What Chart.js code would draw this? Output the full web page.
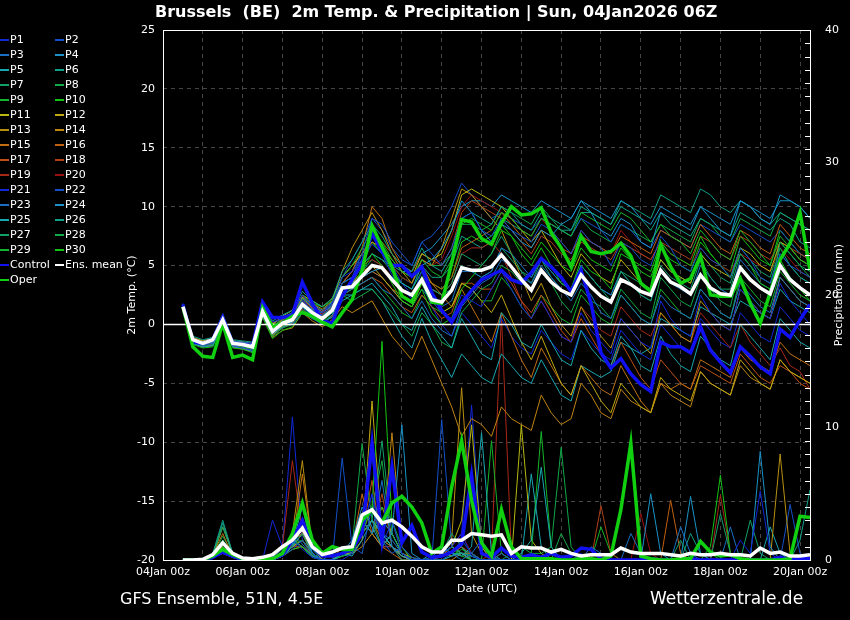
<!DOCTYPE html>
<html lang="en">
<head>
  <meta charset="UTF-8">
  <title>Brussels 2m Temp. &amp; Precipitation</title>
  <script src="https://cdn.jsdelivr.net/npm/chart.js"></script>
  <style>
    body { margin: 0; background: #000; font-family: "DejaVu Sans", sans-serif; color: #fff; }
    #wrap { position: relative; width: 850px; height: 620px; overflow: hidden; background: #000; }
    canvas { position: absolute; left: 0; top: 0; }
    .t { position: absolute; white-space: pre; color: #fff; }
    .rot { position: absolute; width: 160px; height: 14px; line-height: 14px; text-align: center; font-size: 11px;
           font-weight: normal; color: #fff; white-space: pre; transform: rotate(-90deg); }
    #legend { position: absolute; left: 0; top: 32px; font-size: 11px; }
    .item { position: absolute; height: 15px; line-height: 15px; white-space: pre; }
    .sw { display: inline-block; width: 9px; height: 2px; vertical-align: middle; margin-right: 1px; }
  </style>
</head>
<body>
<div id="wrap">
  <canvas id="chart" width="850" height="620"></canvas>
  <div class="t" style="left:155px;top:2px;font-weight:bold;font-size:16px">Brussels  (BE)  2m Temp. &amp; Precipitation | Sun, 04Jan2026 06Z</div>
  <div class="rot" style="left:52px;top:288px">2m Temp. (°C)</div>
  <div class="rot" style="left:759px;top:288px">Precipitation (mm)</div>
  <div class="t" style="left:457px;top:582px;font-size:11px">Date (UTC)</div>
  <div class="t" style="left:120px;top:589px;font-size:16px">GFS Ensemble, 51N, 4.5E</div>
  <div class="t" style="left:650px;top:588px;font-size:17px">Wetterzentrale.de</div>
  <div id="legend"></div>
</div>

<script>
// hours after 04Jan 00z, 06Z run, 6-hourly
const hours = [12,18,24,30,36,42,48,54,60,66,72,78,84,90,96,102,108,114,120,126,132,138,144,150,156,162,168,174,180,186,192,198,
  204,210,216,222,228,234,240,246,252,258,264,270,276,282,288,294,300,306,312,318,324,330,336,342,348,354,360,366,372,378,384,390];
const tickLabels = ['04Jan 00z','06Jan 00z','08Jan 00z','10Jan 00z','12Jan 00z','14Jan 00z','16Jan 00z','18Jan 00z','20Jan 00z'];

// main runs: 2m temperature (°C)
const operT = [1.5,-1.9,-2.7,-2.8,0.1,-2.8,-2.6,-3.0, 1.4,-0.2,0.1,0.7,1.0,0.7,0.2,-0.2,
  1.0,2.1,4.6,8.4,6.6,4.9,2.4,1.9, 3.8,1.9,1.8,5.2,8.9,8.7,7.3,6.8,
  8.6,10.0,9.3,9.4,9.9,7.8,6.5,4.9, 7.5,6.2,6.0,6.2,6.9,5.8,3.5,2.8,
  6.8,4.9,3.5,3.9,5.8,2.5,2.4,2.4, 3.9,1.8,0.1,2.7,5.5,6.9,9.5,4.6];
const ctrlT = [1.7,-1.5,-1.6,-1.3,0.6,-1.6,-1.7,-1.8, 1.9,0.6,0.6,0.8,3.6,1.8,0.3,0.1,
  2.4,3.8,5.2,7.7,6.2,5.0,5.0,4.1, 4.9,2.7,1.2,0.2,1.8,2.9,3.8,4.2,
  4.6,3.8,3.5,4.4,5.6,4.9,4.0,2.8, 4.6,1.8,-2.4,-3.7,-2.9,-4.2,-5.1,-5.7,
  -1.5,-1.9,-1.9,-2.4,-0.2,-2.2,-3.2,-4.1, -1.9,-2.7,-3.6,-4.2,-0.4,-1.1,0.4,1.7];
const meanT = [1.5,-1.3,-1.6,-1.3,0.4,-1.6,-1.7,-1.9, 1.1,-0.6,0.1,0.4,1.7,1.0,0.5,1.2,
  3.1,3.2,4.1,5.0,4.8,3.8,2.9,2.5, 3.8,2.1,1.9,2.9,4.8,4.6,4.6,4.9,
  5.9,4.9,3.8,2.9,4.6,3.6,2.9,2.5, 4.2,3.2,2.4,1.9,3.8,3.4,2.8,2.5,
  4.6,3.6,3.2,2.6,4.2,3.1,2.6,2.5, 4.8,3.8,3.1,2.6,5.0,3.8,3.1,2.5];

// main runs: precipitation (mm / 6h)
const operR = [0,0,0,0.3,0.8,0.4,0.1,0.1, 0.1,0.1,0.5,2.0,4.3,1.5,0.5,1.0,
  0.8,0.8,3.0,3.8,2.8,4.3,4.8,4.0, 2.8,0.5,1.0,5.5,9.0,4.5,1.3,0.3,
  3.8,1.0,0.1,0.1,0.1,0.1,0,0, 0.1,0.1,0,0.3,3.8,8.8,0.3,0.1,
  0,0,0.1,0.1,1.4,0.6,0.3,0.4, 0.1,0,0,0,0,0.1,3.3,3.2];
const ctrlR = [0,0,0,0.2,0.6,0.3,0,0, 0.1,0.1,0.4,1.5,3.0,1.0,0.3,0.3,
  0.5,0.8,2.0,8.8,1.5,7.0,1.3,2.6, 0.6,0.2,0.3,0.6,1.2,6.4,0.5,0.2,
  0.9,0.3,0.2,0.4,0.2,0.5,0.2,0.3, 0.9,0.8,0.1,0,0,0,0,0.1,
  0,0,0,0.1,0,0,0,0, 0,0,0,0,0.2,0,0.1,0.1];
const meanR = [0,0,0.05,0.4,1.3,0.5,0.15,0.1, 0.2,0.4,1.0,1.5,2.4,1.0,0.4,0.6,
  0.9,1.0,3.4,3.8,2.8,3.0,2.5,1.8, 1.0,0.6,0.6,1.5,1.5,2.0,1.9,1.8,
  1.9,0.5,1.0,0.9,0.9,0.6,0.8,0.5, 0.3,0.4,0.4,0.4,0.9,0.6,0.5,0.5,
  0.5,0.4,0.3,0.5,0.4,0.4,0.5,0.4, 0.4,0.3,0.9,0.5,0.6,0.3,0.3,0.4];

// ensemble members: 2m temperature
const t01 = [1.8,-1.2,-1.5,-1.4,0.8,-1.5,-1.6,-1.7, 1.5,0.2,0.5,0.8,2.5,1.5,1.0,1.8, 4.0,4.5,5.5,6.8,6.0,4.2,3.0,2.2, 4.5,2.0,1.0,0.5,2.5,2.0,1.5,3.0,
  4.5,3.0,1.5,0.5,2.0,0.5,-1.0,-1.5, 1.0,-0.5,-1.5,-2.5,0.5,-0.5,-1.5,-2.0, 2.0,0.5,-0.5,-1.0,2.5,1.0,0.0,-0.5, 3.0,2.0,1.0,0.5,3.5,2.0,1.0,0.0];
const t02 = [1.4,-1.5,-1.8,-1.6,0.5,-1.8,-2.0,-2.2, 0.8,-0.8,0.0,0.5,2.0,1.2,0.8,1.5, 3.5,4.0,6.0,9.0,8.5,7.0,6.0,5.0, 7.0,6.0,5.0,6.5,9.0,9.5,8.0,7.5,
  9.0,8.0,7.5,7.0,8.5,8.0,7.0,6.0, 8.0,7.0,6.5,5.0,7.0,6.5,5.5,5.0, 7.5,6.5,5.0,4.5,6.5,5.5,5.0,4.0, 6.5,5.5,4.0,3.5,6.0,5.0,4.5,4.0];
const t03 = [1.6,-1.3,-1.6,-1.2,0.6,-1.4,-1.5,-1.6, 1.2,-0.4,0.3,0.0,1.0,0.5,0.0,0.8, 2.5,3.0,3.5,4.0,3.0,2.5,1.5,0.5, 2.0,0.5,-0.5,-1.0,1.5,2.5,3.5,4.0,
  5.5,5.0,4.0,3.5,5.0,4.0,3.0,2.0, 3.5,2.5,1.0,0.5,2.5,1.5,0.5,0.0, 2.5,1.5,1.0,0.5,3.0,2.0,1.0,0.5, 3.5,2.5,1.5,1.0,4.0,3.0,2.0,1.5];
const t04 = [1.3,-1.6,-1.9,-1.8,0.2,-1.9,-2.0,-2.3, 0.9,-0.7,0.2,0.6,1.8,1.3,1.0,1.6, 3.0,3.5,4.0,4.5,4.8,4.0,3.5,3.0, 5.0,5.5,6.5,8.0,10.5,9.5,8.0,7.0,
  8.5,8.0,7.0,6.5,8.0,7.5,8.5,9.0, 10.5,9.5,8.0,7.5,9.0,8.5,7.0,6.5, 9.5,9.0,8.5,8.0,10.0,9.0,8.0,7.5, 10.5,10.0,9.0,8.5,11.0,10.5,10.0,9.0];
const t05 = [1.5,-1.5,-1.7,-1.5,0.3,-1.6,-1.8,-2.0, 1.0,-0.8,-0.2,0.2,1.5,0.8,0.2,0.6, 2.0,2.5,3.0,3.5,2.5,1.5,0.0,-0.5, 1.5,0.0,-1.0,-2.0,0.5,-1.0,-2.5,-3.0,
  1.0,0.0,-1.5,-2.0,0.0,-1.5,-3.0,-3.5, -0.5,-2.0,-3.0,-3.5,-1.0,-2.0,-3.5,-4.0, -1.0,-2.5,-3.5,-4.0,-1.0,-2.0,-3.0,-3.5, 0.0,-1.0,-2.0,-3.0,0.5,-0.5,-1.5,-2.0];
const t06 = [1.7,-1.0,-1.3,-1.1,0.9,-1.3,-1.4,-1.5, 1.8,0.3,0.8,1.2,2.8,2.0,1.5,2.2, 4.5,5.5,7.0,8.5,7.5,6.0,5.0,4.5, 6.5,5.0,4.5,6.0,9.0,9.5,9.0,8.5,
  10.0,9.5,8.5,8.0,9.5,9.0,8.5,8.0, 10.0,9.5,9.0,8.5,10.0,9.5,9.0,8.0, 9.5,8.5,8.0,7.5,9.0,8.5,8.0,7.5, 9.5,9.0,8.5,8.0,9.0,8.5,7.0,6.5];
const t07 = [1.4,-1.4,-1.6,-1.3,0.4,-1.5,-1.6,-1.8, 1.1,-0.5,0.2,0.5,2.2,1.6,1.0,1.8, 3.5,4.0,5.0,6.0,5.5,4.5,3.5,3.0, 4.5,3.0,2.5,3.5,6.0,5.5,5.0,6.0,
  7.5,6.0,4.5,3.5,5.5,4.0,3.0,2.5, 5.0,4.0,3.0,2.0,4.5,3.5,2.5,2.0, 5.0,4.0,3.5,3.0,5.5,4.0,3.0,3.0, 6.0,5.0,4.0,3.5,6.5,5.0,4.0,3.5];
const t08 = [1.6,-1.6,-1.8,-1.7,0.2,-1.7,-1.9,-2.1, 0.8,-1.0,-0.3,0.0,1.2,0.8,0.3,1.0, 2.5,2.0,2.5,3.0,2.0,1.0,0.0,-1.0, 1.0,0.0,-1.5,-2.0,1.0,2.0,3.0,3.5,
  5.0,4.5,3.5,3.0,4.5,3.5,2.0,1.0, 3.0,2.0,1.5,0.5,3.0,2.0,1.0,0.5, 4.0,3.0,2.0,1.5,4.0,3.0,2.0,1.5, 5.0,4.0,3.0,2.5,7.0,6.0,5.0,4.0];
const t09 = [1.5,-1.3,-1.5,-1.3,0.6,-1.5,-1.6,-1.8, 1.3,-0.2,0.5,1.0,2.5,1.8,1.5,2.0, 4.0,5.0,6.5,8.0,7.0,5.5,4.5,4.0, 5.5,4.5,4.0,5.5,8.5,9.0,8.5,8.0,
  9.5,9.0,8.0,7.5,9.0,8.5,8.0,7.5, 9.5,9.0,8.5,8.0,9.5,9.0,8.0,7.0, 8.5,7.5,7.0,6.0,8.0,7.0,6.0,5.5, 8.0,7.0,6.0,5.0,7.5,6.5,5.5,5.0];
const t10 = [1.3,-1.7,-2.0,-1.9,0.1,-2.0,-2.1,-2.4, 0.6,-1.2,-0.5,-0.2,1.0,0.5,0.2,0.8, 2.5,3.0,4.5,6.0,5.0,3.5,2.0,1.5, 3.0,1.0,0.0,0.5,3.0,4.0,5.0,6.0,
  8.0,7.5,6.0,5.0,6.5,5.0,3.5,3.0, 5.5,4.5,4.0,3.0,6.0,5.5,5.0,4.5, 7.0,6.0,5.5,5.0,7.5,6.0,5.0,4.0, 6.0,5.0,3.5,3.0,5.5,4.0,3.0,2.0];
const t11 = [1.6,-1.2,-1.4,-1.2,0.7,-1.4,-1.5,-1.7, 1.4,0.0,0.7,1.2,2.5,2.0,1.5,2.2, 4.0,5.0,6.0,7.0,6.5,5.5,4.5,4.0, 6.0,5.5,6.0,8.0,11.0,11.5,11.0,10.5,
  10.0,9.0,8.0,7.0,8.0,6.5,5.0,4.0, 6.0,5.0,4.0,3.5,5.5,4.5,3.5,3.0, 5.5,4.5,4.0,3.5,6.0,5.0,4.5,4.0, 6.5,6.0,5.0,4.5,7.0,6.5,5.5,5.0];
const t12 = [1.4,-1.5,-1.8,-1.6,0.4,-1.8,-1.9,-2.0, 0.9,-0.9,-0.1,0.3,1.6,1.0,0.5,1.1, 3.0,3.5,4.5,5.0,4.0,3.0,2.0,1.5, 3.5,2.0,1.0,1.5,3.5,3.0,2.0,1.0,
  2.5,0.5,-1.5,-3.0,-1.0,-3.0,-5.0,-6.0, -3.5,-5.0,-6.5,-7.5,-5.0,-6.0,-7.0,-7.5, -4.5,-5.5,-6.0,-6.5,-4.0,-5.0,-5.5,-6.0, -3.0,-4.0,-5.0,-5.5,-3.0,-4.0,-4.5,-5.0];
const t13 = [1.5,-1.4,-1.6,-1.4,0.5,-1.6,-1.7,-1.9, 1.2,-0.4,0.4,0.9,2.3,1.8,1.3,2.0, 4.5,6.5,8.0,9.5,8.0,6.0,4.5,3.5, 5.5,5.0,6.5,9.0,11.5,11.0,10.0,9.0,
  8.0,6.0,4.0,2.0,3.5,1.5,0.0,-1.0, 1.5,0.0,-1.0,-2.0,0.5,-0.5,-1.5,-2.5, 1.0,0.0,-1.0,-1.5,2.0,1.0,0.0,-0.5, 3.0,2.0,1.0,0.5,4.0,3.0,2.0,1.5];
const t14 = [1.3,-1.6,-1.9,-1.8,0.3,-1.9,-2.1,-2.3, 0.7,-1.1,-0.5,-0.3,1.0,0.3,-0.2,0.4, 1.5,1.0,1.5,2.0,0.5,-1.0,-2.0,-3.0, -1.0,-3.0,-5.0,-7.0,-9.5,-8.0,-8.5,-9.5,
  -7.0,-8.0,-8.5,-9.0,-6.0,-7.5,-8.5,-8.0, -5.0,-6.0,-7.5,-8.0,-5.5,-6.5,-7.0,-7.5, -5.0,-6.0,-6.5,-7.0,-4.0,-5.0,-5.5,-6.0, -3.5,-4.5,-5.0,-5.5,-3.0,-4.0,-4.5,-5.0];
const t15 = [1.7,-1.1,-1.4,-1.2,0.8,-1.4,-1.5,-1.6, 1.6,0.1,0.6,0.9,2.2,1.4,0.8,1.5, 3.5,4.5,6.5,10.0,9.0,6.5,5.0,4.0, 5.0,3.5,2.5,1.5,3.0,1.5,0.0,-1.5,
  1.0,-1.0,-3.0,-4.5,-2.0,-3.5,-5.0,-6.0, -3.5,-4.5,-5.5,-6.0,-3.5,-5.0,-6.5,-7.5, -5.0,-5.5,-5.0,-5.5,-3.0,-3.5,-4.0,-4.5, -2.0,-3.0,-3.5,-4.0,-1.5,-2.5,-3.0,-3.5];
const t16 = [1.5,-1.4,-1.7,-1.5,0.4,-1.7,-1.8,-2.0, 1.0,-0.6,0.0,0.4,1.8,1.1,0.6,1.3, 3.0,3.5,4.0,4.5,4.0,3.0,2.5,2.0, 4.0,3.5,3.0,4.0,6.5,7.0,7.5,8.0,
  9.5,8.5,7.5,6.5,8.0,7.5,6.5,6.0, 7.5,7.0,6.5,6.0,7.5,7.0,6.5,6.0, 8.0,7.5,7.0,6.5,8.5,7.5,6.5,6.0, 8.0,7.5,6.5,6.0,8.5,7.5,6.5,6.0];
const t17 = [1.4,-1.5,-1.8,-1.7,0.3,-1.8,-2.0,-2.1, 0.8,-0.9,-0.2,0.1,1.3,0.6,0.1,0.7, 2.5,3.0,3.5,4.0,3.5,2.5,1.5,1.0, 2.5,1.5,0.5,1.0,3.5,3.5,3.0,3.0,
  4.5,3.5,2.0,1.0,2.5,1.0,-0.5,-1.5, 0.5,-1.0,-2.5,-3.5,-1.5,-3.0,-4.5,-5.5, -3.0,-4.0,-5.0,-5.5,-3.5,-4.0,-4.5,-5.0, -2.5,-3.5,-4.5,-5.0,-3.5,-4.0,-5.0,-5.5];
const t18 = [1.6,-1.2,-1.5,-1.3,0.7,-1.5,-1.6,-1.8, 1.4,-0.2,0.5,0.9,2.4,1.6,1.1,1.8, 4.0,5.0,6.0,7.5,7.0,6.0,5.0,4.5, 6.0,5.5,5.0,6.5,9.5,10.5,10.0,9.5,
  9.0,8.0,7.0,6.0,7.5,7.0,6.0,5.5, 7.0,6.5,6.0,5.5,7.0,6.5,6.0,5.5, 7.0,6.5,6.0,5.5,7.5,7.0,6.0,5.5, 7.5,7.0,6.0,5.5,7.0,6.5,6.0,5.5];
const t19 = [1.5,-1.3,-1.6,-1.4,0.5,-1.6,-1.7,-1.9, 1.2,-0.5,0.3,0.7,2.0,1.3,0.8,1.5, 3.5,4.0,5.0,5.5,5.0,4.0,3.0,2.5, 4.0,3.0,2.5,3.5,6.0,6.5,6.5,7.0,
  6.0,4.0,2.0,0.5,2.0,0.5,-1.0,-1.5, 1.5,0.5,-0.5,-1.0,1.5,0.5,-0.5,-1.0, 1.0,0.0,-1.0,-1.5,1.0,0.0,-1.0,-2.0, 0.0,-1.5,-2.5,-3.5,-2.0,-3.5,-4.0,-5.5];
const t20 = [1.4,-1.4,-1.7,-1.5,0.4,-1.7,-1.8,-2.0, 1.0,-0.7,0.1,0.5,1.9,1.3,0.9,1.6, 3.5,4.5,5.5,7.0,6.5,5.0,4.0,3.5, 5.5,5.0,5.5,7.5,10.0,11.0,10.5,10.0,
  9.5,9.0,8.0,7.5,9.0,8.0,7.0,6.0, 8.0,7.0,6.5,6.0,8.0,7.0,6.0,5.5, 7.0,6.0,5.5,5.0,6.5,5.5,5.0,4.5, 6.0,5.5,5.0,4.5,6.5,5.5,4.5,4.0];
const t21 = [1.6,-1.3,-1.5,-1.3,0.6,-1.5,-1.6,-1.8, 1.3,-0.3,0.4,0.8,2.1,1.4,1.0,1.7, 3.5,4.5,6.0,7.5,6.5,5.0,3.5,2.5, 3.5,1.5,0.0,-1.0,1.0,0.0,-1.0,-2.0,
  0.5,-1.0,-2.0,-2.5,-0.5,-1.5,-2.5,-3.0, -0.5,-1.5,-2.5,-3.0,-0.5,-1.5,-2.5,-3.0, 0.0,-1.0,-2.0,-2.5,0.5,-0.5,-1.5,-2.0, 1.0,0.0,-1.0,-1.5,1.5,0.5,-0.5,-1.0];
const t22 = [1.5,-1.4,-1.7,-1.5,0.5,-1.7,-1.8,-2.0, 1.0,-0.6,0.2,0.6,2.0,1.5,1.1,1.8, 4.0,5.5,7.0,9.0,8.0,6.5,5.5,5.0, 7.0,7.5,8.5,10.0,12.0,11.0,10.0,9.0,
  9.5,9.0,8.5,8.0,9.0,8.5,8.0,7.5, 9.0,8.5,8.0,7.0,8.5,8.0,7.0,6.5, 8.0,7.5,7.0,6.5,8.5,8.0,7.5,7.0, 8.5,8.0,7.5,7.0,8.0,7.0,6.0,5.5];
const t23 = [1.3,-1.6,-1.9,-1.7,0.2,-1.9,-2.0,-2.2, 0.7,-1.0,-0.3,0.1,1.4,0.8,0.3,1.0, 3.0,3.5,4.0,4.5,4.0,3.0,2.0,1.5, 3.0,2.0,1.5,2.0,4.5,4.5,4.0,4.5,
  6.5,6.0,5.0,4.0,5.5,4.5,3.5,3.0, 5.0,4.0,3.0,2.5,4.5,3.5,2.5,2.0, 4.5,3.5,3.0,2.5,5.0,4.0,3.0,2.5, 5.5,4.5,3.5,3.0,6.0,5.0,4.0,3.5];
const t24 = [1.7,-1.1,-1.4,-1.2,0.8,-1.4,-1.5,-1.7, 1.5,0.0,0.6,1.0,2.3,1.7,1.2,1.9, 3.5,4.0,5.0,6.0,5.5,5.0,4.5,4.5, 6.0,6.5,7.5,8.5,10.0,10.5,10.5,10.0,
  11.0,10.5,10.0,9.5,10.5,10.0,9.5,9.0, 10.5,10.0,9.5,9.0,10.5,10.0,9.0,8.5, 10.0,9.5,9.0,8.5,10.0,9.5,9.0,8.5, 10.5,10.0,9.5,9.0,10.5,10.5,10.0,9.0];
const t25 = [1.4,-1.5,-1.8,-1.6,0.4,-1.8,-1.9,-2.1, 0.9,-0.8,-0.1,0.3,1.5,0.9,0.4,1.1, 2.5,2.5,3.0,3.0,2.0,0.5,-1.0,-2.0, 0.5,-1.5,-3.0,-4.5,-2.5,-3.5,-4.5,-5.0,
  -2.5,-3.5,-4.5,-5.0,-3.0,-4.5,-6.0,-6.5, -3.5,-4.0,-4.5,-4.0,-1.5,-2.0,-2.5,-2.0, 0.5,0.0,-0.5,-1.0,1.5,1.0,0.5,0.0, 2.0,1.5,1.0,0.5,3.0,2.0,1.5,1.0];
const t26 = [1.6,-1.2,-1.5,-1.3,0.6,-1.5,-1.6,-1.8, 1.3,-0.3,0.4,0.8,2.2,1.5,1.1,1.7, 3.5,4.0,5.5,7.5,6.5,5.0,4.0,3.5, 5.0,4.0,4.0,5.0,7.5,7.0,6.5,7.0,
  9.0,8.5,8.0,7.5,9.0,8.5,8.0,8.0, 9.5,9.5,9.0,8.5,10.5,10.0,9.5,9.0, 11.0,10.5,10.0,9.5,11.5,11.0,10.0,9.5, 10.5,10.0,9.0,8.5,9.5,9.0,8.5,8.0];
const t27 = [1.5,-1.4,-1.6,-1.4,0.5,-1.6,-1.7,-1.9, 1.1,-0.5,0.2,0.6,2.0,1.2,0.7,1.4, 3.0,3.5,4.5,5.5,5.0,4.0,3.0,2.5, 4.0,3.0,2.5,3.0,5.0,4.5,4.0,4.5,
  6.5,5.5,4.5,4.0,5.5,4.5,3.5,3.0, 5.0,4.0,3.0,2.5,4.5,4.0,3.5,3.0, 5.5,4.5,4.0,3.5,6.0,5.0,4.0,3.5, 6.5,5.5,4.5,4.0,7.0,6.0,5.0,4.5];
const t28 = [1.4,-1.5,-1.8,-1.6,0.4,-1.8,-1.9,-2.1, 1.0,-0.7,0.1,0.5,1.8,1.2,0.8,1.5, 3.5,4.5,6.0,7.0,6.0,5.0,4.0,3.5, 5.5,5.0,5.0,6.0,8.5,8.5,8.0,8.5,
  10.0,9.5,9.0,8.5,10.0,9.0,8.0,7.5, 9.0,8.0,7.5,7.0,8.5,8.0,7.5,7.0, 8.5,8.0,7.5,7.0,9.0,8.5,7.5,7.0, 9.0,8.5,8.0,7.5,9.5,9.0,8.5,8.0];
const t29 = [1.5,-1.3,-1.6,-1.4,0.5,-1.6,-1.7,-1.9, 1.2,-0.4,0.3,0.7,1.9,1.3,0.8,1.5, 3.0,3.0,3.5,4.0,3.0,2.0,1.0,0.5, 2.5,1.5,1.0,1.5,3.5,3.0,2.0,2.0,
  4.0,3.0,1.5,0.5,2.5,1.5,0.5,0.0, 2.5,1.5,0.5,0.0,2.5,1.5,0.5,0.0, 3.0,2.0,1.0,0.5,3.0,2.0,1.0,0.5, 4.0,3.0,2.0,1.5,4.5,3.5,2.5,2.0];
const t30 = [1.3,-1.6,-1.9,-1.8,0.3,-1.9,-2.0,-2.2, 0.8,-0.9,-0.2,0.2,1.6,1.1,0.6,1.3, 3.0,3.5,5.0,7.0,6.0,4.5,3.5,3.0, 4.5,3.5,3.0,4.0,7.0,7.5,7.0,7.5,
  8.5,7.5,6.5,5.5,7.0,6.0,5.0,4.5, 6.5,5.5,5.0,4.5,6.5,5.5,4.5,4.0, 6.5,5.5,5.0,4.5,7.0,6.0,5.0,4.5, 7.5,6.5,5.5,5.0,8.0,7.0,6.0,5.5];

// ensemble members: precipitation
const r01 = [0,0,0,0.2,0.5,0.2,0,0, 0,0,0.5,1.5,0.8,0.2,0,0, 0,0.5,2,5,1,3,0.5,0, 0,0,0.5,1,2,0.3,0,0,
  0,0,0,0,0,0,0,0, 0.5,0,0,0,0,0,0,0, 0,0,0,0,0,0,0,0, 1.5,0.5,5.2,0.5,0,0,0,0];
const r02 = [0,0,0,0.3,0.8,0.3,0,0, 0,0,0.3,0.8,1.5,0.5,0,0, 7.7,1,0.5,4,1.5,0.5,1,0.2, 0,0,0,0.5,1.5,0.5,0,0,
  0.5,0,0,0,0.3,0,0,0, 0,0,0,0,0,0,0,0, 0,0,0,0,0,0,0,0, 0,0,0,0,0,0,0,0];
const r03 = [0,0,0,0.1,0.6,0.2,0,0, 0,0.2,0.8,2,1.2,0.3,0,0.5, 1,0.5,3,2,6,1,0.5,0, 0,0.2,1,0.5,0,0.5,1.5,0.2,
  0,0,0,0,0,0,0,0, 0,1,0.5,0,0,2,0.5,0, 0,0,2.5,0.5,0,0,0,0, 0,0,0,0,0,0,0,0];
const r04 = [0,0,0,0.3,1.2,0.4,0,0, 0,0,0.3,1,2.5,0.5,0,0, 0.5,1.5,4,2.5,1,2,10.2,0.5, 0,0,0,0.3,0.5,0,0,0,
  0,0,0,0,0,0,0,0, 0,0,0,0,0,0,0,5, 0.5,0,0,0,0,0,0,0, 0,0,8.2,1,0,0,0,0];
const r05 = [0,0,0,0.2,0.7,0.3,0,0, 0,0,0.6,1.2,4,0.8,0,0, 0.5,0.3,1.5,3,2,1,0.3,0, 0,0.5,1,0.5,0.3,1,9.6,0.5,
  0,0,0.5,1.5,7,1,0,0, 0,0,0,0,0,0,0,0, 0,0,0,0,0,0,0,0, 0,0,0,0,0,0,0,0];
const r06 = [0,0,0,0.5,3,0.5,0,0, 0,0,0.5,1,3,0.5,0,0, 0.5,1,3,8,2,1,0,0, 0,0,0.5,1,0.5,0.3,0,0,
  0,0,0,0,0,0,0,0, 0,0,0,0,0,0,0,0, 0,0,0,2,0.5,0,0,0, 0,0,0,0,0,0,0,0.5];
const r07 = [0,0,0,0.4,2.5,0.4,0,0, 0,0,0.4,1,2,0.5,0,0, 0.3,0.5,2,3,9,2,0.5,0, 0,0,0.5,2,1,0,0,0,
  0,0,0,0,0,0,0,0, 0,0,0,0,0,0,0,0, 0,0,1.5,0,0,0,3.5,0.5, 0,0,0,0,0,0,0,0];
const r08 = [0,0,0,0.3,1.5,0.3,0,0, 0,0,0.6,1.5,1,0.3,0,0, 0.5,1,8.8,3,1,2,0.5,0, 0,0,0.5,1,0.5,0.3,0,0,
  0,0.5,1,0.5,0.5,1,8.5,1, 0,0,0,0,0,0,0,0, 0,0,0,0,0,0,0,0, 0,0,0,0,0,0,0,0];
const r09 = [0,0,0,0.2,1,0.3,0,0, 0,0,0.5,1.2,1.5,0.4,0,0, 0.3,0.5,3,2,4,3,1,0, 0,0,0,0.3,0.8,0.5,0,9,
  0.5,0,0,0.5,9.7,1,0,0, 0,0,0,0,0,0,0,0, 0,0,0,0,0,0,0,0, 0,0,0,0,0,0,0,0];
const r10 = [0,0,0,0.2,0.8,0.2,0,0, 0,0,0.3,0.8,1,0.2,0,0, 0.3,0.5,2,4,16.5,3,0.5,0, 0,0,0.5,1,0.3,0,0,0,
  0,0,0,0,0,0,0,0, 0,0,0,0,0,0,0,0, 0,0,0,0,0,1,6.4,0.5, 0,0,0,0,0,0,0,0];
const r11 = [0,0,0,0.3,2.5,0.5,0,0, 0,0,0.5,1,1.5,0.5,0,0, 0.5,1,2,3,2,1,0.5,0.2, 0,0,0.5,1,3,10.2,1,0,
  0.5,0,10.2,1.5,0.5,0,0,0, 0,0,0,0,0,0,0,0, 0,0,0,0,0,0,0,0, 0,0,0,0,0,0,0,0];
const r12 = [0,0,0,0.2,1,0.2,0,0, 0,0,0.3,1,2,0.5,0,0, 0.5,0.5,1.5,12,2,1,0.3,0, 0,0,0.5,0.3,0.5,0,0,0,
  0,0,0,0,0,0,0,0, 0,0,0,0,0,0,0,0, 0,0,0,0,0,0,0,0, 0,0,0,0,0,0,0,0];
const r13 = [0,0,0,0.3,1,0.3,0,0, 0,0,0.5,2,7.5,1,0,0, 0.5,1,3,2,4,2,0.5,0, 0,0,0.5,1.5,13,2,0.5,0,
  0,0,0,0,0,0,0,0, 0,0,0,0,0,0,0,0, 0,0,0,0,0,0,0,0, 0,0,0,0,8,0.5,0,0];
const r14 = [0,0,0,0.2,0.5,0.2,0,0, 0,0,0.3,0.8,1,0.3,0,0, 0.5,0.5,1,2,1,9.6,1,0, 0,0,0,0,0.5,0,0,0,
  0,0,0,0,0,0,0,0, 0,0,0,0,0,0,0,0, 0,0,0,0,0,0,0,0, 0,0,0,0,0,0,0,0];
const r15 = [0,0,0,0.4,2,0.3,0,0, 0,0,0.4,1.2,6.5,1,0,0, 1,0.5,2,3,1.5,1,0.5,0, 0,0,0.5,0.5,1,0,0,0,
  0,0,0,0,0,0,0,0, 0,0,0,0,0,0,0,0, 0,0,0,0,0,0,0,0, 0,0,0,0,0,0,0,0];
const r16 = [0,0,0,0.3,1.2,0.3,0,0, 0,0,0.5,1.5,2,0.5,0,0, 0.5,1,5,2,1,0.5,0,0, 0,0,0.3,1,0.5,0,0,0,
  0,0,0,0,0,0,0,0, 0,0,0,0,0,0,0,0, 0,4.5,0.5,0,0,0,0,0, 0,0,0,0,0,0,0,0];
const r17 = [0,0,0,0.2,0.8,0.2,0,0, 0,0,0.5,1,1,0.3,0,0, 0.3,0.5,2,6,1,2,0.5,0, 0,0,0.5,1,0.5,0.5,0,0,
  0,0,0,0,0,0,0,0, 0,0,0,0,0,0,0,0, 0,0,0,0,0,0,0,0, 0,0,0,0,0,0,0,0];
const r18 = [0,0,0,0.2,1,0.3,0,0, 0,0,0.5,1.5,1,0.5,0,0, 0.5,1,3,2,5,1,0,0, 0,0,0.5,1,0.5,0,0,0,
  0,0,0,0,0,0,0,0, 0,0,4.1,0.5,0,0,0,0, 0,0,0,0,0,0,0,0, 0,0,0,0,0,0,0,0];
const r19 = [0,0,0,0.3,1,0.3,0,0, 0,0,1,7.5,2,0.5,0,0, 0.5,0.5,2,3,1,1,0.3,0, 0,0,0.3,0.5,1,0.5,0,0.5,
  18.5,0.5,0,0,0,0,0,0, 0,0,0,0,0,0,0,0, 0,0,0,0,0,0,4.9,0.5, 0,0,0,0,0,0,0,0];
const r20 = [0,0,0,0.2,0.6,0.2,0,0, 0,0,0.3,1,1.5,0.3,0,0, 0.5,1,2,4,2,1,0.5,0, 0,0,0.5,1,2,0.5,0,0,
  0,0,0,0,0,0,0,0, 0,0,0,0,0,0,3.5,0.5, 0,0,0,0,0,0,0,0, 0,0,0,0,0,0,0,0];
const r21 = [0,0,0,0.2,0.6,0.2,0,0, 0,3,1,10.8,1.5,0.5,0,0, 0.5,0.5,2,5,2,1,0.5,0, 0,0,0.5,1,2,11.7,1,0,
  0,0,0,0,0,0,0,0, 0,0,0,0,0,0,0,0, 0,0,0,0,0,0,0,0, 0,0,0,0,0,0,0,0];
const r22 = [0,0,0,0.2,0.5,0.2,0,0, 0,0,0.3,1,1.5,0.3,0,0, 0.5,0.5,3,2,1,1,0.3,0, 0,0,10.6,1,0.5,0,0,0,
  0,0,0,0,0,0,0,0, 0,0,0,0,0,0,0,0, 0,0,0,0,0,0,0,0, 0,0,0,0,0,4.2,0.5,0];
const r23 = [0,0,0,0.3,1,0.3,0,0, 0,0,0.5,1.5,2,0.5,0,0, 0.5,1,2,3,2,1.5,0.5,0, 0,0,0.5,0.5,1,0.3,0,0,
  0,0,0,0,0,0,0,0, 0,0,0,0,0,0,0,0, 0,0,0,0,0,0,0,2.5, 0,0,0,0,0,0,0,0];
const r24 = [0,0,0,0.2,0.8,0.3,0,0, 0,0,0.5,1,1.5,0.5,0,0, 0.5,0.5,2,4,1.5,1,0.3,0, 0,0,0.3,1,0.5,0,0,0,
  0,0,0,0,0,0,0,0, 0,0,0,0,0,0,0,0, 0,0,0,4.8,0.5,0,0,0, 0,0,0,0,0,0,0,0];
const r25 = [0,0,0,0.3,1.2,0.3,0,0, 0,0,0.5,1,2,0.5,0,0, 0.5,1,3,2,3,2,0.5,0, 0,0,0.5,0.5,0.5,0.5,0,0,
  0,0,0,6.5,1,0,0,0, 0,0,0,0,0,0,0,0, 0,0,0,0,0,0,0,0, 0,0,0,2.5,0.5,0,0,0];
const r26 = [0,0,0,0.4,2.8,0.5,0,0, 0,0,0.5,1.5,1,0.3,0,0, 0.5,0.5,2,3,2,1,0.3,0, 0,0,0.5,1,0.5,0.5,0,0,
  0,0,0,0,0,0,0,0, 0,0,0,0,0,0,0,0, 0,0,0,0,0,0,0,0, 0,0,0,0,0,0,1.5,5.3];
const r27 = [0,0,0,0.3,1.5,0.3,0,0, 0,0,0.5,1,2,0.5,0,0, 0.5,1,2,3,2,1,0.5,0, 0,0,0.5,1,0.5,0.3,0,0,
  0,0,0,0,0,0,0,0, 0,0,0,0,0,0,0,0, 0,0,0,0,0,0,0,0, 0,3,0.5,0,0,0,0,0];
const r28 = [0,0,0,0.3,1.8,0.4,0,0, 0,0,0.4,1,1.5,0.5,0,0, 0.5,1,2.5,4,7.5,1,0.5,0, 0,0,0.5,1,0.5,0.3,0,0,
  0,0,0,0,0,0,2,0.5, 0,0,0,0,0,0,0,0, 0,0,0,0,0,0,0,0, 0,0,0,0,0,0,0,0];
const r29 = [0,0,0,0.3,1.5,0.3,0,0, 0,0,0.5,1,1.5,0.5,0,0, 0.5,1,2,3,2,1,0.5,0, 0,0,0.5,1,0.5,0,0,0,
  0,0,0,0,0,0,0,0, 0,0,2.5,0.5,0,0,0,0, 0,0,0,0,0,0,0,0, 0,0,0,0,0,0,0,0];
const r30 = [0,0,0,0.3,1.2,0.3,0,0, 0,0,0.3,1,1.5,0.5,0,0, 0.5,1,2,3,2,1,0.5,0, 0,0,0.5,1,0.5,0,0,0,
  0,0,0,0,0,0,0,0, 0,0,0,0,0,0,0,0, 0,0,0,0,1.5,0.5,0,0, 0,0,0,0,0,0,0,0];

const memberTemps = [t01,t02,t03,t04,t05,t06,t07,t08,t09,t10,t11,t12,t13,t14,t15,t16,t17,t18,t19,t20,t21,t22,t23,t24,t25,t26,t27,t28,t29,t30];
const memberRain = [r01,r02,r03,r04,r05,r06,r07,r08,r09,r10,r11,r12,r13,r14,r15,r16,r17,r18,r19,r20,r21,r22,r23,r24,r25,r26,r27,r28,r29,r30];
const paletteTen = ['#1028d8','#1450c8','#1a70c4','#1a92c8','#18a8b0','#10a088','#10a068','#10a848','#14b428','#14c414'];
const paletteWarm = ['#b8b810','#c0a810','#b89010','#c08410','#c07010','#c06010','#c05014','#b04018','#a82818','#981010'];
const memberColors = paletteTen.concat(paletteWarm, paletteTen);
const memberNames = memberTemps.map((_, k) => 'P' + (k + 1));

const toXY = arr => hours.map((h, i) => ({ x: h, y: arr[i] }));

function line(data, color, width, axis) {
  return { data: toXY(data), borderColor: color, borderWidth: width, pointRadius: 0, yAxisID: axis, tension: 0, fill: false };
}

// first dataset is drawn on top
const datasets = [
  line(meanT, '#ffffff', 3.5, 'y'),
  line(operT, '#10d010', 3.5, 'y'),
  line(ctrlT, '#1010f0', 3.5, 'y'),
  line(meanR, '#ffffff', 3.5, 'y2'),
  line(operR, '#10d010', 3.5, 'y2'),
  line(ctrlR, '#1010f0', 3.5, 'y2'),
  { data: [{ x: 0, y: 0 }, { x: 390, y: 0 }], borderColor: '#ffffff', borderWidth: 1.5, pointRadius: 0, yAxisID: 'y' }
];
memberTemps.forEach((arr, k) => datasets.push(line(arr, memberColors[k], 1, 'y')));
memberRain.forEach((arr, k) => datasets.push(line(arr, memberColors[k], 1, 'y2')));

// frame around the plot and short inward ticks on the precipitation axis
const frame = {
  id: 'frame',
  afterDraw(chart) {
    const a = chart.chartArea, ctx = chart.ctx, s = chart.scales.y2;
    ctx.save();
    ctx.strokeStyle = '#ffffff';
    ctx.lineWidth = 1;
    s.ticks.forEach(t => {
      const y = Math.round(s.getPixelForValue(t.value)) + 0.5;
      ctx.beginPath();
      ctx.moveTo(a.right - 5, y);
      ctx.lineTo(a.right, y);
      ctx.stroke();
    });
    ctx.strokeRect(Math.round(a.left) + 0.5, Math.round(a.top) + 0.5, Math.round(a.right - a.left), Math.round(a.bottom - a.top));
    ctx.restore();
  }
};

const font = { family: 'DejaVu Sans', size: 11 };
new Chart(document.getElementById('chart'), {
  type: 'line',
  data: { datasets },
  options: {
    responsive: false,
    animation: false,
    devicePixelRatio: 1,
    layout: { padding: { left: 123, top: 30, right: 0, bottom: 0 } },
    plugins: { legend: { display: false }, tooltip: { enabled: false } },
    scales: {
      x: {
        type: 'linear', min: 0, max: 390,
        ticks: {
          stepSize: 24, includeBounds: false, autoSkip: false, maxRotation: 0, maxTicksLimit: 50,
          color: '#fff', font, padding: 6,
          callback: v => (v % 48 === 0 ? tickLabels[v / 48] : '')
        },
        grid: { color: '#454545', drawTicks: false },
        border: { display: false, dash: [4, 4] },
        afterFit: s => { s.height = 60; }
      },
      y: {
        position: 'left', min: -20, max: 25,
        ticks: { stepSize: 5, color: '#fff', font, padding: 8 },
        grid: { color: '#454545', drawTicks: false },
        border: { display: false, dash: [4, 4] },
        afterFit: s => { s.width = 40; }
      },
      y2: {
        position: 'right', min: 0, max: 40,
        ticks: {
          stepSize: 1, maxTicksLimit: 100, autoSkip: false, color: '#fff', font, padding: 7,
          callback: v => (v % 10 === 0 ? v : '')
        },
        grid: { display: false, drawOnChartArea: false },
        border: { display: false },
        afterFit: s => { s.width = 40; }
      }
    }
  },
  plugins: [frame]
});

// two-column legend on the left
const legendItems = memberNames.map((n, k) => ({ name: n, color: memberColors[k] }))
  .concat([{ name: 'Control', color: '#1010f0' }, { name: 'Ens. mean', color: '#ffffff' }, { name: 'Oper', color: '#10d010' }]);
const legend = document.getElementById('legend');
legendItems.forEach((it, k) => {
  const el = document.createElement('div');
  el.className = 'item';
  el.style.left = (k % 2 === 0 ? 0 : 55) + 'px';
  el.style.top = (Math.floor(k / 2) * 15) + 'px';
  el.innerHTML = '<span class="sw" style="background:' + it.color + '"></span>' + it.name;
  legend.appendChild(el);
});
</script>
</body>
</html>
